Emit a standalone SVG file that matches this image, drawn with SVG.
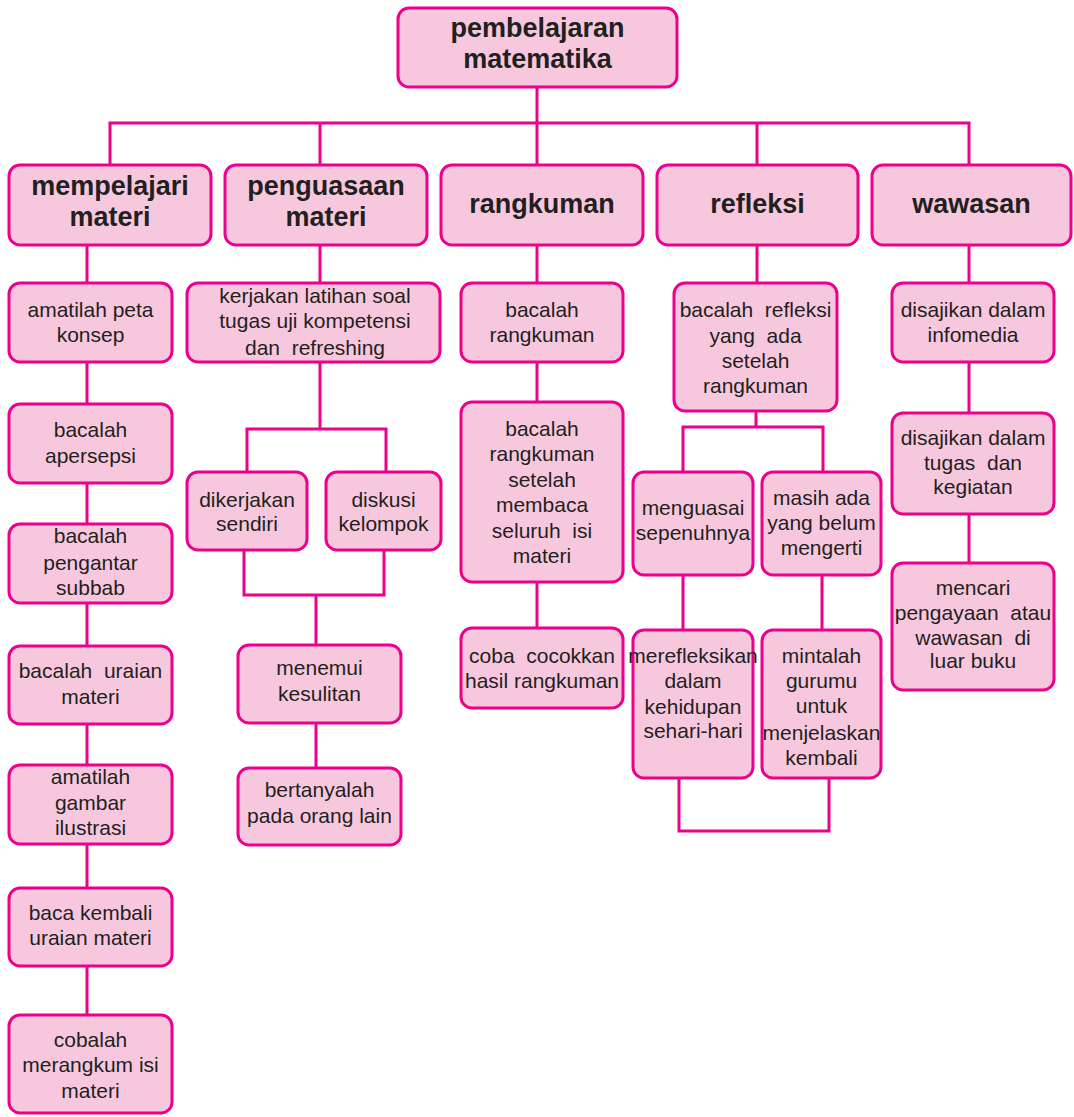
<svg xmlns="http://www.w3.org/2000/svg" width="1074" height="1117" viewBox="0 0 1074 1117">
<style>
.b{fill:#F7C8DD;stroke:#EC008C;stroke-width:3}
.c{fill:none;stroke:#EC008C;stroke-width:3}
text{font-family:"Liberation Sans",Arial,sans-serif;fill:#231F20;text-anchor:middle;white-space:pre}
.t{font-size:21px}
.h{font-size:27px;font-weight:bold}
</style>
<rect width="1074" height="1117" fill="#FFFFFF"/>
<g id="connectors">
<polyline class="c" points="537,87 537,123"/>
<polyline class="c" points="110,165 110,123 969,123 969,165"/>
<polyline class="c" points="320,123 320,165"/>
<polyline class="c" points="537,123 537,165"/>
<polyline class="c" points="757,123 757,165"/>
<polyline class="c" points="87,245 87,1015"/>
<polyline class="c" points="320,245 320,283"/>
<polyline class="c" points="320,362 320,429"/>
<polyline class="c" points="247,472 247,429 386,429 386,472"/>
<polyline class="c" points="244,550 244,595 384,595 384,550"/>
<polyline class="c" points="316,595 316,645"/>
<polyline class="c" points="316,723 316,768"/>
<polyline class="c" points="537,245 537,628"/>
<polyline class="c" points="757,245 757,283"/>
<polyline class="c" points="756,411 756,427"/>
<polyline class="c" points="683,472 683,427 823,427 823,472"/>
<polyline class="c" points="683,575 683,630"/>
<polyline class="c" points="822,575 822,630"/>
<polyline class="c" points="679,778 679,831 829,831 829,778"/>
<polyline class="c" points="969,245 969,563"/>
</g>
<g id="root"><rect class="b" x="398" y="8" width="279" height="79" rx="11"/><text class="h" x="537.5" y="37">pembelajaran</text><text class="h" x="537.5" y="68">matematika</text></g>
<g id="mempelajari"><rect class="b" x="9" y="165" width="202" height="80" rx="11"/><text class="h" x="110" y="195">mempelajari</text><text class="h" x="110" y="226">materi</text></g>
<g id="penguasaan"><rect class="b" x="225" y="165" width="202" height="80" rx="11"/><text class="h" x="326" y="195">penguasaan</text><text class="h" x="326" y="226">materi</text></g>
<g id="rangkuman"><rect class="b" x="441" y="165" width="202" height="80" rx="11"/><text class="h" x="542" y="213">rangkuman</text></g>
<g id="refleksi"><rect class="b" x="657" y="165" width="201" height="80" rx="11"/><text class="h" x="757.5" y="213">refleksi</text></g>
<g id="wawasan"><rect class="b" x="872" y="165" width="199" height="80" rx="11"/><text class="h" x="971.5" y="213">wawasan</text></g>

<g id="c1n1"><rect class="b" x="9" y="283" width="163" height="79" rx="11"/><text class="t" x="90.5" y="317">amatilah peta</text><text class="t" x="90.5" y="342">konsep</text></g>
<g id="c1n2"><rect class="b" x="9" y="404" width="163" height="79" rx="11"/><text class="t" x="90.5" y="437">bacalah</text><text class="t" x="90.5" y="463">apersepsi</text></g>
<g id="c1n3"><rect class="b" x="9" y="524" width="163" height="79" rx="11"/><text class="t" x="90.5" y="543">bacalah</text><text class="t" x="90.5" y="570">pengantar</text><text class="t" x="90.5" y="595">subbab</text></g>
<g id="c1n4"><rect class="b" x="9" y="646" width="163" height="78" rx="11"/><text class="t" x="90.5" y="678">bacalah  uraian</text><text class="t" x="90.5" y="704">materi</text></g>
<g id="c1n5"><rect class="b" x="9" y="765" width="163" height="79" rx="11"/><text class="t" x="90.5" y="784">amatilah</text><text class="t" x="90.5" y="810">gambar</text><text class="t" x="90.5" y="835">ilustrasi</text></g>
<g id="c1n6"><rect class="b" x="9" y="888" width="163" height="78" rx="11"/><text class="t" x="90.5" y="920">baca kembali</text><text class="t" x="90.5" y="945">uraian materi</text></g>
<g id="c1n7"><rect class="b" x="9" y="1015" width="163" height="98" rx="11"/><text class="t" x="90.5" y="1047">cobalah</text><text class="t" x="90.5" y="1072">merangkum isi</text><text class="t" x="90.5" y="1098">materi</text></g>

<g id="c2n1"><rect class="b" x="187" y="283" width="253" height="79" rx="11"/><text class="t" x="315" y="303">kerjakan latihan soal</text><text class="t" x="315" y="328">tugas uji kompetensi</text><text class="t" x="315" y="355">dan  refreshing</text></g>
<g id="c2n2"><rect class="b" x="187" y="472" width="120" height="78" rx="11"/><text class="t" x="247" y="507">dikerjakan</text><text class="t" x="247" y="531">sendiri</text></g>
<g id="c2n3"><rect class="b" x="326" y="472" width="115" height="78" rx="11"/><text class="t" x="383.5" y="507">diskusi</text><text class="t" x="383.5" y="531">kelompok</text></g>
<g id="c2n4"><rect class="b" x="238" y="645" width="163" height="78" rx="11"/><text class="t" x="319.5" y="675">menemui</text><text class="t" x="319.5" y="701">kesulitan</text></g>
<g id="c2n5"><rect class="b" x="238" y="768" width="163" height="77" rx="11"/><text class="t" x="319.5" y="797">bertanyalah</text><text class="t" x="319.5" y="823">pada orang lain</text></g>

<g id="c3n1"><rect class="b" x="461" y="283" width="162" height="79" rx="11"/><text class="t" x="542" y="317">bacalah</text><text class="t" x="542" y="342">rangkuman</text></g>
<g id="c3n2"><rect class="b" x="461" y="402" width="162" height="180" rx="11"/><text class="t" x="542" y="436">bacalah</text><text class="t" x="542" y="461">rangkuman</text><text class="t" x="542" y="487">setelah</text><text class="t" x="542" y="512">membaca</text><text class="t" x="542" y="538">seluruh  isi</text><text class="t" x="542" y="563">materi</text></g>
<g id="c3n3"><rect class="b" x="461" y="628" width="162" height="80" rx="11"/><text class="t" x="542" y="663">coba  cocokkan</text><text class="t" x="542" y="688">hasil rangkuman</text></g>

<g id="c4n1"><rect class="b" x="674" y="283" width="163" height="128" rx="11"/><text class="t" x="755.5" y="317">bacalah  refleksi</text><text class="t" x="755.5" y="343">yang  ada</text><text class="t" x="755.5" y="368">setelah</text><text class="t" x="755.5" y="393">rangkuman</text></g>
<g id="c4n2"><rect class="b" x="633" y="472" width="120" height="103" rx="11"/><text class="t" x="693" y="515">menguasai</text><text class="t" x="693" y="540">sepenuhnya</text></g>
<g id="c4n3"><rect class="b" x="762" y="472" width="119" height="103" rx="11"/><text class="t" x="821.5" y="505">masih ada</text><text class="t" x="821.5" y="530">yang belum</text><text class="t" x="821.5" y="555">mengerti</text></g>
<g id="c4n4"><rect class="b" x="633" y="630" width="120" height="148" rx="11"/><text class="t" x="693" y="663">merefleksikan</text><text class="t" x="693" y="688">dalam</text><text class="t" x="693" y="714">kehidupan</text><text class="t" x="693" y="738">sehari-hari</text></g>
<g id="c4n5"><rect class="b" x="762" y="630" width="119" height="148" rx="11"/><text class="t" x="821.5" y="663">mintalah</text><text class="t" x="821.5" y="688">gurumu</text><text class="t" x="821.5" y="713">untuk</text><text class="t" x="821.5" y="740">menjelaskan</text><text class="t" x="821.5" y="765">kembali</text></g>

<g id="c5n1"><rect class="b" x="892" y="283" width="162" height="79" rx="11"/><text class="t" x="973" y="317">disajikan dalam</text><text class="t" x="973" y="342">infomedia</text></g>
<g id="c5n2"><rect class="b" x="892" y="413" width="162" height="101" rx="11"/><text class="t" x="973" y="445">disajikan dalam</text><text class="t" x="973" y="470">tugas  dan</text><text class="t" x="973" y="494">kegiatan</text></g>
<g id="c5n3"><rect class="b" x="892" y="563" width="162" height="127" rx="11"/><text class="t" x="973" y="595">mencari</text><text class="t" x="973" y="620">pengayaan  atau</text><text class="t" x="973" y="645">wawasan  di</text><text class="t" x="973" y="668">luar buku</text></g>
</svg>
